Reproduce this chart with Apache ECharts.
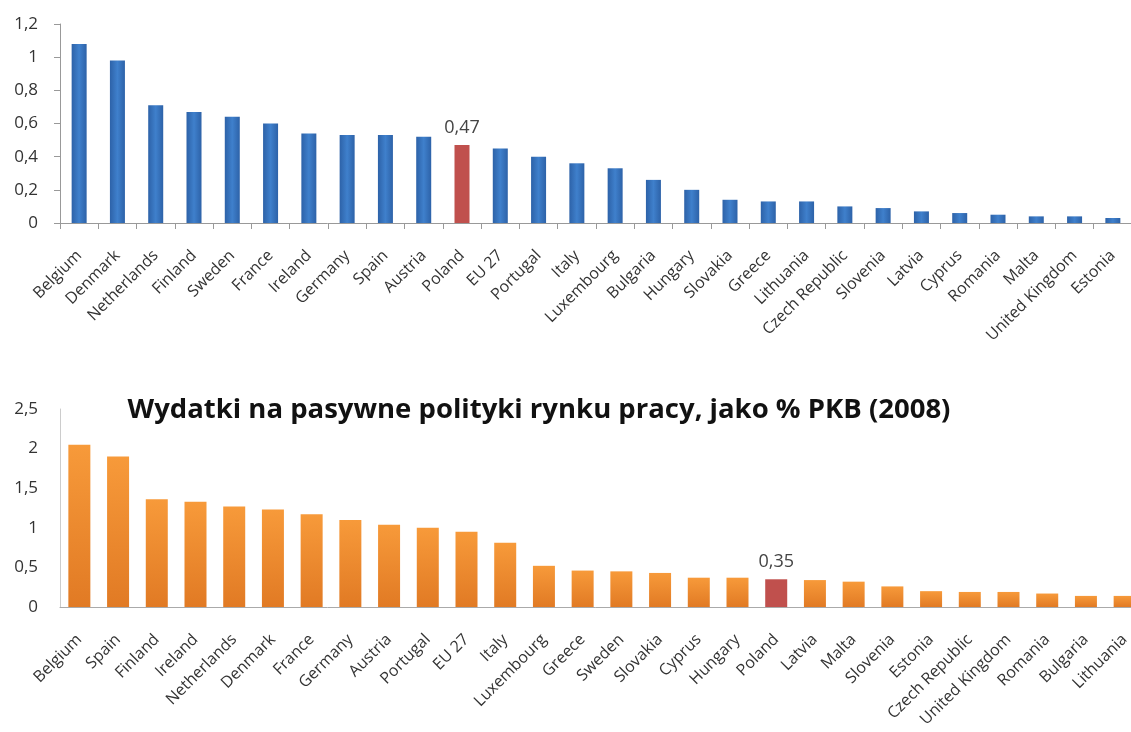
<!DOCTYPE html>
<html>
<head>
<meta charset="utf-8">
<script src="https://cdn.jsdelivr.net/npm/echarts@6/dist/echarts.min.js"></script>
<style>
html,body{margin:0;padding:0;background:#fff;}
#c{width:1131px;height:732px;}
</style>
</head>
<body>
<div id="c"></div>
<script>
const topCategories = ["Belgium","Denmark","Netherlands","Finland","Sweden","France","Ireland","Germany","Spain","Austria","Poland","EU 27","Portugal","Italy","Luxembourg","Bulgaria","Hungary","Slovakia","Greece","Lithuania","Czech Republic","Slovenia","Latvia","Cyprus","Romania","Malta","United Kingdom","Estonia"];
const topValues = [1.08,0.98,0.71,0.67,0.64,0.60,0.54,0.53,0.53,0.52,0.47,0.45,0.40,0.36,0.33,0.26,0.20,0.14,0.13,0.13,0.10,0.09,0.07,0.06,0.05,0.04,0.04,0.03];
const topTicks = {min:0, max:1.2, interval:0.2};

const bottomTitle = "Wydatki na pasywne polityki rynku pracy, jako % PKB (2008)";
const bottomCategories = ["Belgium","Spain","Finland","Ireland","Netherlands","Denmark","France","Germany","Austria","Portugal","EU 27","Italy","Luxembourg","Greece","Sweden","Slovakia","Cyprus","Hungary","Poland","Latvia","Malta","Slovenia","Estonia","Czech Republic","United Kingdom","Romania","Bulgaria","Lithuania"];
const bottomValues = [2.05,1.90,1.36,1.33,1.27,1.23,1.17,1.10,1.04,1.00,0.95,0.81,0.52,0.46,0.45,0.43,0.37,0.37,0.35,0.34,0.32,0.26,0.20,0.19,0.19,0.17,0.14,0.14];
const bottomTicks = {min:0, max:2.5, interval:0.5};

const highlight = "Poland";

const FONT = "Open Sans";
const fmt = v => String(+v.toFixed(2)).replace('.', ',');

const blue = new echarts.graphic.LinearGradient(0,0,1,0,[
  {offset:0,color:'#2d62a8'},{offset:0.5,color:'#3f80cc'},{offset:1,color:'#2d62a8'}]);
const orange = new echarts.graphic.LinearGradient(0,0,0,1,[
  {offset:0,color:'#f79a3a'},{offset:1,color:'#e17a24'}]);
const red = '#c0504d';

function mkData(cats, vals, base){
  return vals.map((v,i)=>{
    if (cats[i] === highlight) {
      return {value:v, itemStyle:{color:red},
        label:{show:true, position:'top', distance:8, formatter:p=>fmt(p.value),
          color:'#444', fontFamily:FONT, fontSize:18}};
    }
    return {value:v, itemStyle:{color:base}};
  });
}

const axisLabelX = {rotate:45, fontFamily:FONT, fontSize:16, color:'#333', margin:30, interval:0};
const axisLabelY = {fontFamily:FONT, fontSize:17, color:'#333', formatter:fmt, margin:22};

const chart = echarts.init(document.getElementById('c'));
chart.setOption({
  animation:false,
  title:{text:bottomTitle, left:534, top:391, textAlign:'center',
    textStyle:{fontFamily:FONT, fontWeight:'bold', fontSize:27.5, color:'#111'}},
  grid:[
    {left:60, width:1072, top:24, height:199, containLabel:false, outerBoundsMode:'none'},
    {left:60, width:1084, top:409, height:198, containLabel:false, outerBoundsMode:'none'}
  ],
  xAxis:[
    {type:'category', gridIndex:0, data:topCategories,
     axisLine:{lineStyle:{color:'#999'}}, axisTick:{show:true, length:6, lineStyle:{color:'#999'}},
     axisLabel:axisLabelX},
    {type:'category', gridIndex:1, data:bottomCategories,
     axisLine:{lineStyle:{color:'#aaa'}}, axisTick:{show:false},
     axisLabel:axisLabelX}
  ],
  yAxis:[
    {type:'value', gridIndex:0, min:topTicks.min, max:topTicks.max, interval:topTicks.interval,
     axisLine:{show:true, lineStyle:{color:'#999'}}, axisTick:{show:true, length:6, lineStyle:{color:'#999'}},
     splitLine:{show:false}, axisLabel:axisLabelY},
    {type:'value', gridIndex:1, min:bottomTicks.min, max:bottomTicks.max, interval:bottomTicks.interval,
     axisLine:{show:true, lineStyle:{color:'#ccc'}}, axisTick:{show:false},
     splitLine:{show:false}, axisLabel:axisLabelY}
  ],
  series:[
    {type:'bar', xAxisIndex:0, yAxisIndex:0, data:mkData(topCategories, topValues, blue), barWidth:15},
    {type:'bar', xAxisIndex:1, yAxisIndex:1, data:mkData(bottomCategories, bottomValues, orange), barWidth:22}
  ]
});
</script>
</body>
</html>
